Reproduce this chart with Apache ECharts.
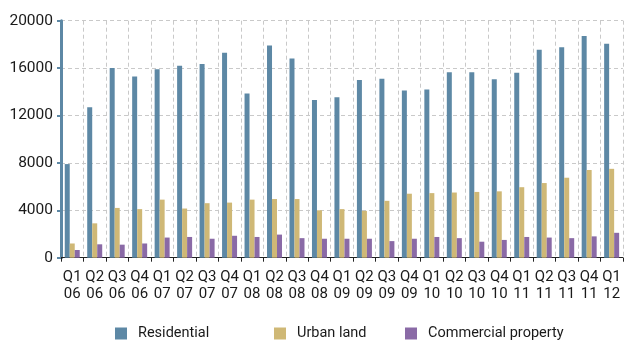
<!DOCTYPE html>
<html>
<head>
<meta charset="utf-8">
<script src="https://cdn.jsdelivr.net/npm/echarts@6/dist/echarts.min.js"></script>
<style>
  html, body { margin: 0; padding: 0; background: #fff; }
  #chart { width: 624px; height: 341px; }
</style>
</head>
<body>
<div id="chart"></div>
<script>
// Quarterly values, Q1 2006 – Q1 2012
const quarters = ['Q1\n06','Q2\n06','Q3\n06','Q4\n06','Q1\n07','Q2\n07','Q3\n07','Q4\n07',
  'Q1\n08','Q2\n08','Q3\n08','Q4\n08','Q1\n09','Q2\n09','Q3\n09','Q4\n09',
  'Q1\n10','Q2\n10','Q3\n10','Q4\n10','Q1\n11','Q2\n11','Q3\n11','Q4\n11','Q1\n12'];

const residential = [7900, 12700, 16000, 15300, 15900, 16200, 16350, 17300,
  13850, 17900, 16800, 13300, 13550, 15000, 15100, 14100,
  14200, 15650, 15650, 15050, 15600, 17550, 17750, 18700, 18050];

const urbanLand = [1200, 2900, 4200, 4100, 4900, 4150, 4600, 4650,
  4900, 4950, 4950, 4000, 4100, 3950, 4800, 5400,
  5450, 5500, 5550, 5600, 5950, 6300, 6750, 7400, 7500];

const commercial = [650, 1130, 1100, 1200, 1700, 1750, 1600, 1850,
  1750, 1950, 1650, 1600, 1600, 1600, 1400, 1600,
  1750, 1650, 1350, 1500, 1750, 1700, 1650, 1800, 2100];

const yTicks = { min: 0, max: 20000, step: 4000 };

const FONT = 'Roboto, "Noto Sans", sans-serif';
const BLUE = '#5d88a5';
const TAN = '#cfb876';
const PURPLE = '#8a6aa6';
const GRID_LINE = { color: '#c9c9c9', width: 1, type: [4, 3] };

const chart = echarts.init(document.getElementById('chart'), null, { renderer: 'canvas' });

function legendAt(name, left) {
  return {
    data: [name], left: left, top: 326, padding: 0,
    icon: 'rect', itemWidth: 12, itemHeight: 12,
    selectedMode: false,
    textStyle: { fontFamily: FONT, fontSize: 14.5, color: '#1a1a1a', padding: [0, 0, 0, 6] }
  };
}

function barSeries(name, data, color) {
  return {
    name: name, type: 'bar', data: data,
    barWidth: 5, barGap: '0%',
    itemStyle: { color: color },
    animation: false
  };
}

chart.setOption({
  animation: false,
  grid: { left: 61, right: 0, top: 20.7, bottom: 83.3, containLabel: false },
  legend: [
    legendAt('Residential', 115),
    legendAt('Urban land', 274),
    legendAt('Commercial property', 405)
  ],
  xAxis: {
    type: 'category', data: quarters, boundaryGap: true,
    axisLine: { lineStyle: { color: '#222', width: 1 } },
    axisTick: { show: true, length: 4, lineStyle: { color: '#222' } },
    axisLabel: { interval: 0, fontFamily: FONT, fontSize: 15, lineHeight: 17, color: '#1a1a1a', margin: 11 },
    splitLine: { show: true, interval: 0, lineStyle: GRID_LINE }
  },
  yAxis: {
    type: 'value', min: yTicks.min, max: yTicks.max, interval: yTicks.step,
    axisLine: { show: true, lineStyle: { color: BLUE, width: 3 } },
    axisTick: { show: true, length: 4, lineStyle: { color: BLUE, width: 2 } },
    axisLabel: { fontFamily: FONT, fontSize: 15.5, color: '#1a1a1a', margin: 8,
      formatter: function (v) { return String(v); } },
    splitLine: { show: true, lineStyle: GRID_LINE }
  },
  series: [
    barSeries('Residential', residential, BLUE),
    barSeries('Urban land', urbanLand, TAN),
    barSeries('Commercial property', commercial, PURPLE)
  ]
});
</script>
</body>
</html>
